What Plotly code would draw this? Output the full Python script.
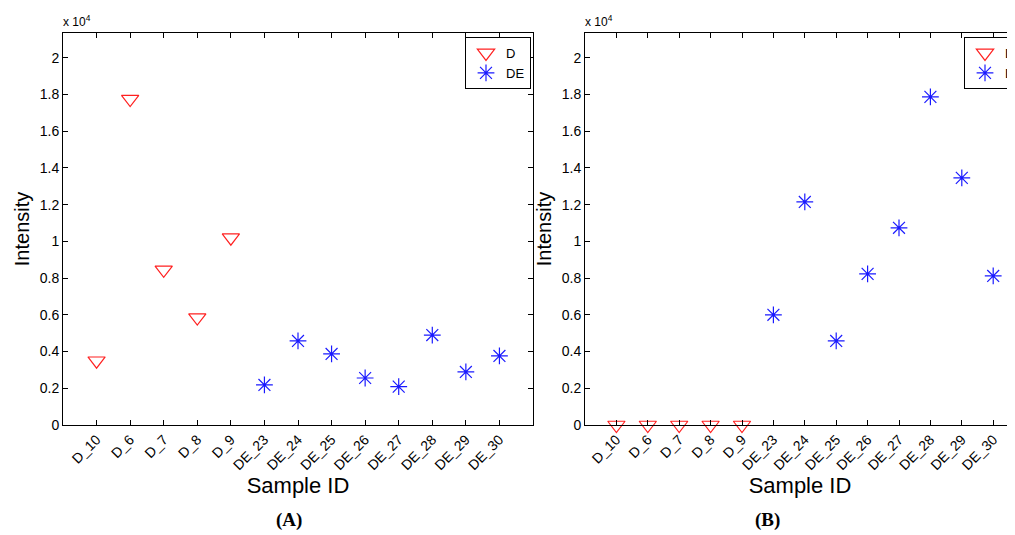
import plotly.graph_objects as go

# the page body has an 8px margin, so the figure is drawn 8px in
OFF = 8
W, H = 1015 - OFF, 535 - OFF

samples = ["D_10", "D_6", "D_7", "D_8", "D_9", "DE_23", "DE_24", "DE_25",
           "DE_26", "DE_27", "DE_28", "DE_29", "DE_30"]
d_samples = samples[:5]
de_samples = samples[5:]

# panel A
a_d = [3500, 17750, 8450, 5850, 10200]
a_de = [2180, 4580, 3870, 2560, 2090, 4900, 2890, 3760]
# panel B
b_d = [0, 0, 0, 0, 0]
b_de = [6000, 12150, 4580, 8230, 10740, 17870, 13460, 8120]

y_ticks = [0, 2000, 4000, 6000, 8000, 10000, 12000, 14000, 16000, 18000, 20000]
y_ticktext = ["0", "0.2", "0.4", "0.6", "0.8", "1", "1.2", "1.4", "1.6", "1.8", "2"]

RED = "#ff2020"
BLUE = "#1a1aff"
FONT = "Liberation Sans, Arial, sans-serif"


def px(x):
    return (x - OFF) / W


def py(y):
    return 1 - (y - OFF) / H


fig = go.Figure()

for d_vals, de_vals, xa, ya, lg in [(a_d, a_de, "x", "y", "legend"),
                                    (b_d, b_de, "x2", "y2", "legend2")]:
    fig.add_trace(go.Scatter(
        x=d_samples, y=d_vals, xaxis=xa, yaxis=ya, mode="markers", name="D",
        legend=lg, cliponaxis=False,
        marker=dict(symbol="triangle-down-open", size=15, color=RED,
                    line=dict(width=1.2, color=RED))
    ))
    fig.add_trace(go.Scatter(
        x=de_samples, y=de_vals, xaxis=xa, yaxis=ya, mode="markers", name="DE",
        legend=lg, cliponaxis=False,
        marker=dict(symbol="asterisk-open", size=14, color=BLUE,
                    line=dict(width=1.2, color=BLUE))
    ))

x_common = dict(
    type="category", categoryorder="array", categoryarray=samples,
    range=[-1, 13], showgrid=False, zeroline=False,
    showline=True, linecolor="black", linewidth=1, mirror="allticks",
    ticks="inside", ticklen=5, tickcolor="black", tickangle=-45,
    tickfont=dict(family=FONT, size=14, color="black"),
    title=dict(text="Sample ID", font=dict(family=FONT, size=22, color="black"),
               standoff=0),
)
y_common = dict(
    range=[0, 21350], showgrid=False, zeroline=False,
    showline=True, linecolor="black", linewidth=1, mirror="allticks",
    ticks="inside", ticklen=5, tickcolor="black",
    tickvals=y_ticks, ticktext=y_ticktext,
    tickfont=dict(family=FONT, size=14, color="black"),
    title=dict(text="Intensity", font=dict(family=FONT, size=20, color="black"),
               standoff=4),
)

legend_common = dict(
    y=py(37), yanchor="top", bgcolor="white", bordercolor="black",
    borderwidth=1, font=dict(family=FONT, size=13, color="black"),
    tracegroupgap=0, itemwidth=30,
)

fig.update_layout(
    width=W, height=H,
    paper_bgcolor="white", plot_bgcolor="white",
    margin=dict(l=0, r=0, t=0, b=0, autoexpand=False),
    xaxis=dict(x_common, domain=[px(63), px(533)], anchor="y"),
    yaxis=dict(y_common, domain=[py(425), py(33)], anchor="x"),
    xaxis2=dict(x_common, domain=[px(585), 1.0], anchor="y2",
                range=[-1, (1015 - 585) / 31.4 - 1]),
    yaxis2=dict(y_common, domain=[py(425), py(33)], anchor="x2"),
    legend=dict(legend_common, x=px(531), xanchor="right"),
    legend2=dict(legend_common, x=px(964), xanchor="left"),
    showlegend=True,
)

# exponent labels and panel captions
for xpos in (63, 585):
    fig.add_annotation(x=px(xpos - 2), y=py(31), xref="paper", yref="paper",
                       text="x 10<sup>4</sup>", showarrow=False,
                       xanchor="left", yanchor="bottom",
                       font=dict(family=FONT, size=12, color="black"))
for xpos, cap in ((289, "(A)"), (767, "(B)")):
    fig.add_annotation(x=px(xpos), y=py(520), xref="paper", yref="paper",
                       text="<b>" + cap + "</b>", showarrow=False,
                       xanchor="center", yanchor="middle",
                       font=dict(family="Liberation Serif, Times New Roman, serif",
                                 size=19, color="black"))

fig.write_html("out.html")
